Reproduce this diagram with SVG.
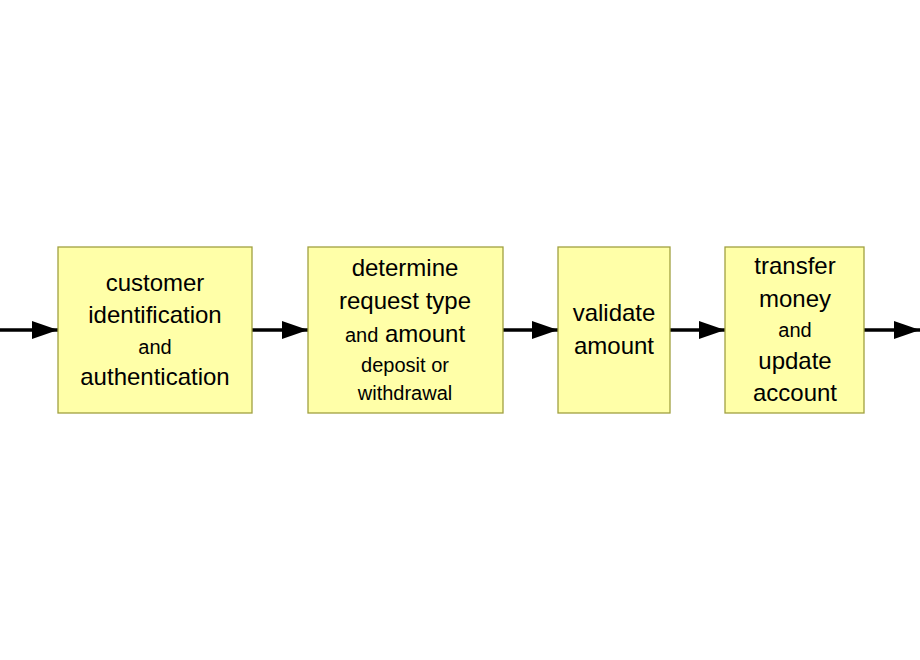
<svg xmlns="http://www.w3.org/2000/svg" width="920" height="660" viewBox="0 0 920 660">
<style>
.box{fill:#FFFFA8;stroke:#A0A040;stroke-width:1.3}
.t{font-family:"Liberation Sans",Arial,sans-serif;text-anchor:middle;fill:#000}
.b{font-size:24px}.s{font-size:20px}
.c{stroke:#000;stroke-width:3.5;fill:none}
</style>
<defs><marker id="a" markerUnits="userSpaceOnUse" markerWidth="26" markerHeight="18" refX="26" refY="9" orient="auto"><path d="M0,0 L26,9 L0,18 Z" fill="#000"/></marker></defs>
<rect width="920" height="660" fill="#fff"/>
<g id="connectors">
<path class="c" d="M0,330 H58" marker-end="url(#a)"/>
<path class="c" d="M252,330 H308" marker-end="url(#a)"/>
<path class="c" d="M503,330 H558" marker-end="url(#a)"/>
<path class="c" d="M670,330 H725" marker-end="url(#a)"/>
<path class="c" d="M864,330 H920" marker-end="url(#a)"/>
</g>
<g id="n1"><rect class="box" x="58" y="247" width="194" height="166"/>
<text class="t b" x="155" y="291">customer</text>
<text class="t b" x="155" y="323">identification</text>
<text class="t s" x="155" y="354">and</text>
<text class="t b" x="155" y="385">authentication</text></g>
<g id="n2"><rect class="box" x="308" y="247" width="195" height="166"/>
<text class="t b" x="405" y="276">determine</text>
<text class="t b" x="405" y="309">request type</text>
<text class="t b" x="405" y="342"><tspan class="s">and</tspan> amount</text>
<text class="t s" x="405" y="372">deposit or</text>
<text class="t s" x="405" y="400">withdrawal</text></g>
<g id="n3"><rect class="box" x="558" y="247" width="112" height="166"/>
<text class="t b" x="614" y="321">validate</text>
<text class="t b" x="614" y="354">amount</text></g>
<g id="n4"><rect class="box" x="725" y="247" width="139" height="166"/>
<text class="t b" x="795" y="274">transfer</text>
<text class="t b" x="795" y="307">money</text>
<text class="t s" x="795" y="337">and</text>
<text class="t b" x="795" y="369">update</text>
<text class="t b" x="795" y="401">account</text></g>
</svg>
